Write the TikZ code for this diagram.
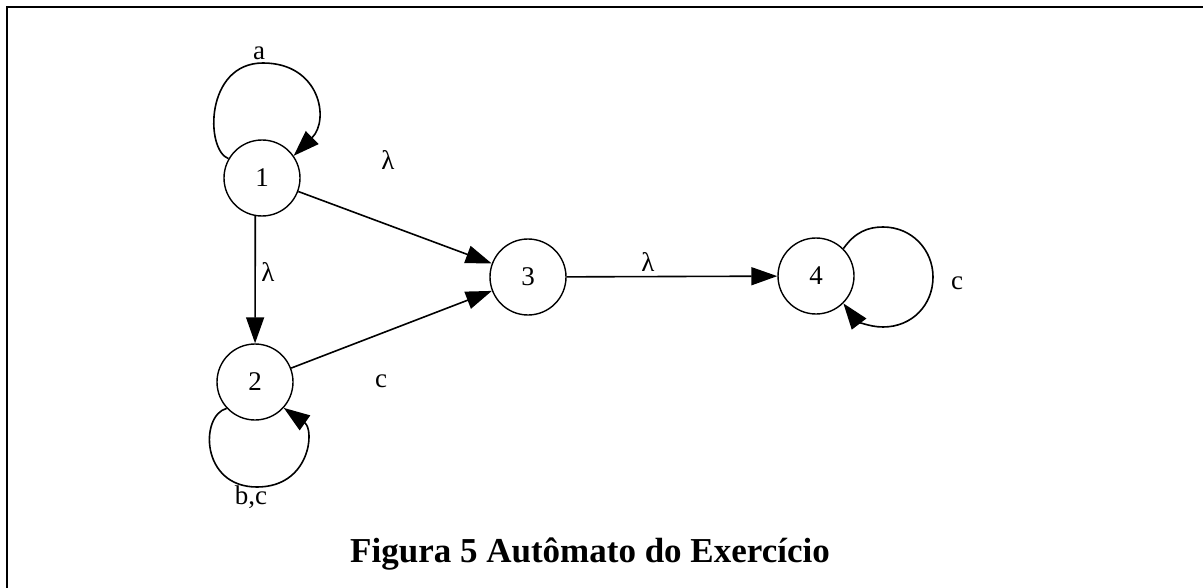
\documentclass[tikz,border=0pt]{standalone}
\usepackage{fontspec}
\setmainfont{Liberation Serif}
\usetikzlibrary{arrows.meta}
\tikzstyle{state} = [circle, 
minimum size=38pt, 
inner sep=0pt, 
draw=black, 
line width=0.7pt, 
font=\fontsize{13.5}{16}\selectfont]
\tikzstyle{lab} = [inner sep=0pt, 
font=\fontsize{13.5}{16}\selectfont]
\tikzstyle{arrow} = [line width=0.8pt,-{Triangle[length=13pt,width=9pt]}]
\begin{document}
\begin{tikzpicture}[x=0.5pt,y=-0.5pt]
\useasboundingbox (0,0) rectangle (1203,588);

% Frame
\draw [line width=1.25pt] (7,588) -- (7,7) -- (1203,7);

% Nodes
\node (one) [state] at (262,178) {1};
\node (two) [state] at (255,382) {2};
\node (three) [state] at (528,277) {3};
\node (four) [state] at (816,276) {4};

% Labels
\node (laba) [lab] at (259,53) {a};
\node (labbc) [lab] at (251,497) {b,c};
\node (labc) [lab] at (957,283) {c};
\node (labonethree) [lab] at (388,160) {λ};
\node (labonetwo) [lab] at (268,272) {λ};
\node (labtwothree) [lab] at (381,381) {c};
\node (labthreefour) [lab] at (648,262) {λ};

% Arrows
\draw [arrow] (one) -- (three);
\draw [arrow] (one.-100) -- (two);
\draw [arrow] (two) -- (three);
\draw [arrow] (three) -- (four);
\draw [arrow] (one.150) .. controls (205,150) and (205,63) .. (263,63)
  .. controls (320,63) and (330,120) .. (one.35);
\draw [arrow] (two.223) .. controls (200,415) and (200,487) .. (257,487)
  .. controls (310,487) and (315,430) .. (two.318);
\draw [arrow] (four.45) .. controls (855,232) and (868,227) .. (883,227)
  .. controls (912,227) and (933,250) .. (933,277)
  .. controls (933,305) and (912,327) .. (883,327)
  .. controls (868,327) and (856,320) .. (four.-45);

% Caption
\node (caption) [font=\fontsize{17.5}{21}\selectfont\bfseries] at (590,554) {Figura 5 Autômato do Exercício};

\end{tikzpicture}
\end{document}
